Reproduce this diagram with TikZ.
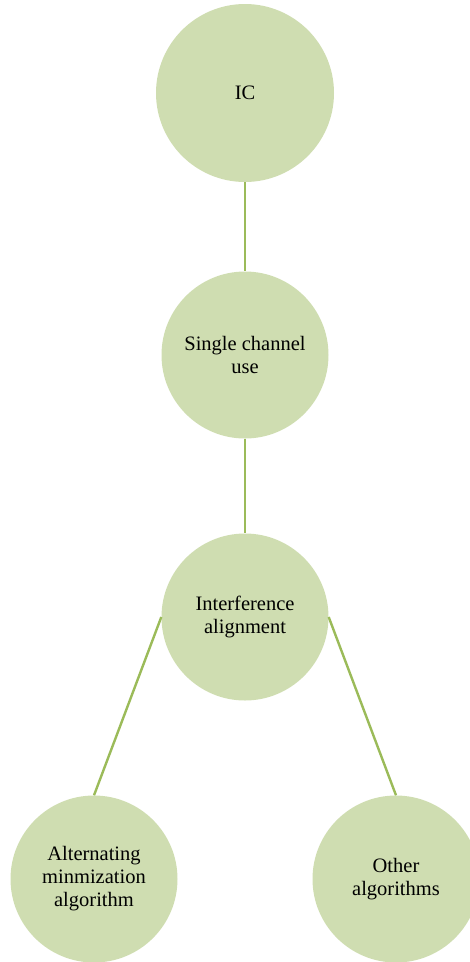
\documentclass[tikz,border=0pt]{standalone}
\usepackage{fontspec}
\setmainfont{Liberation Serif}
\begin{document}
\begin{tikzpicture}[x=1pt,y=-1pt,
  bubble/.style={circle, fill=bubblefill, draw=none, inner sep=0pt,
    minimum size=167pt, align=center, text=black,
    font=\fontsize{20.5}{23}\selectfont},
  bigbubble/.style={bubble, minimum size=178pt},
  link/.style={draw=linkgreen, line width=2.4pt}]
  \definecolor{bubblefill}{HTML}{CFDDB1}
  \definecolor{linkgreen}{HTML}{9BBB59}
  \useasboundingbox (0,0) rectangle (470,962);
  \clip (0,0) rectangle (470,962);
  % tree of circles
  \node[bigbubble] (ic) at (245,93) {IC};
  \node[bubble] (scu) at (245,355) {Single channel\\use};
  \node[bubble] (ia) at (245,617) {Interference\\alignment};
  \node[bubble] (alt) at (94,879) {Alternating\\minmization\\algorithm};
  \node[bubble] (oth) at (396,879) {Other\\algorithms};
  % connectors
  \draw[link] (ic.south) -- (scu.north);
  \draw[link] (scu.south) -- (ia.north);
  \draw[link] (ia.west) -- (alt.north);
  \draw[link] (ia.east) -- (oth.north);
\end{tikzpicture}
\end{document}
